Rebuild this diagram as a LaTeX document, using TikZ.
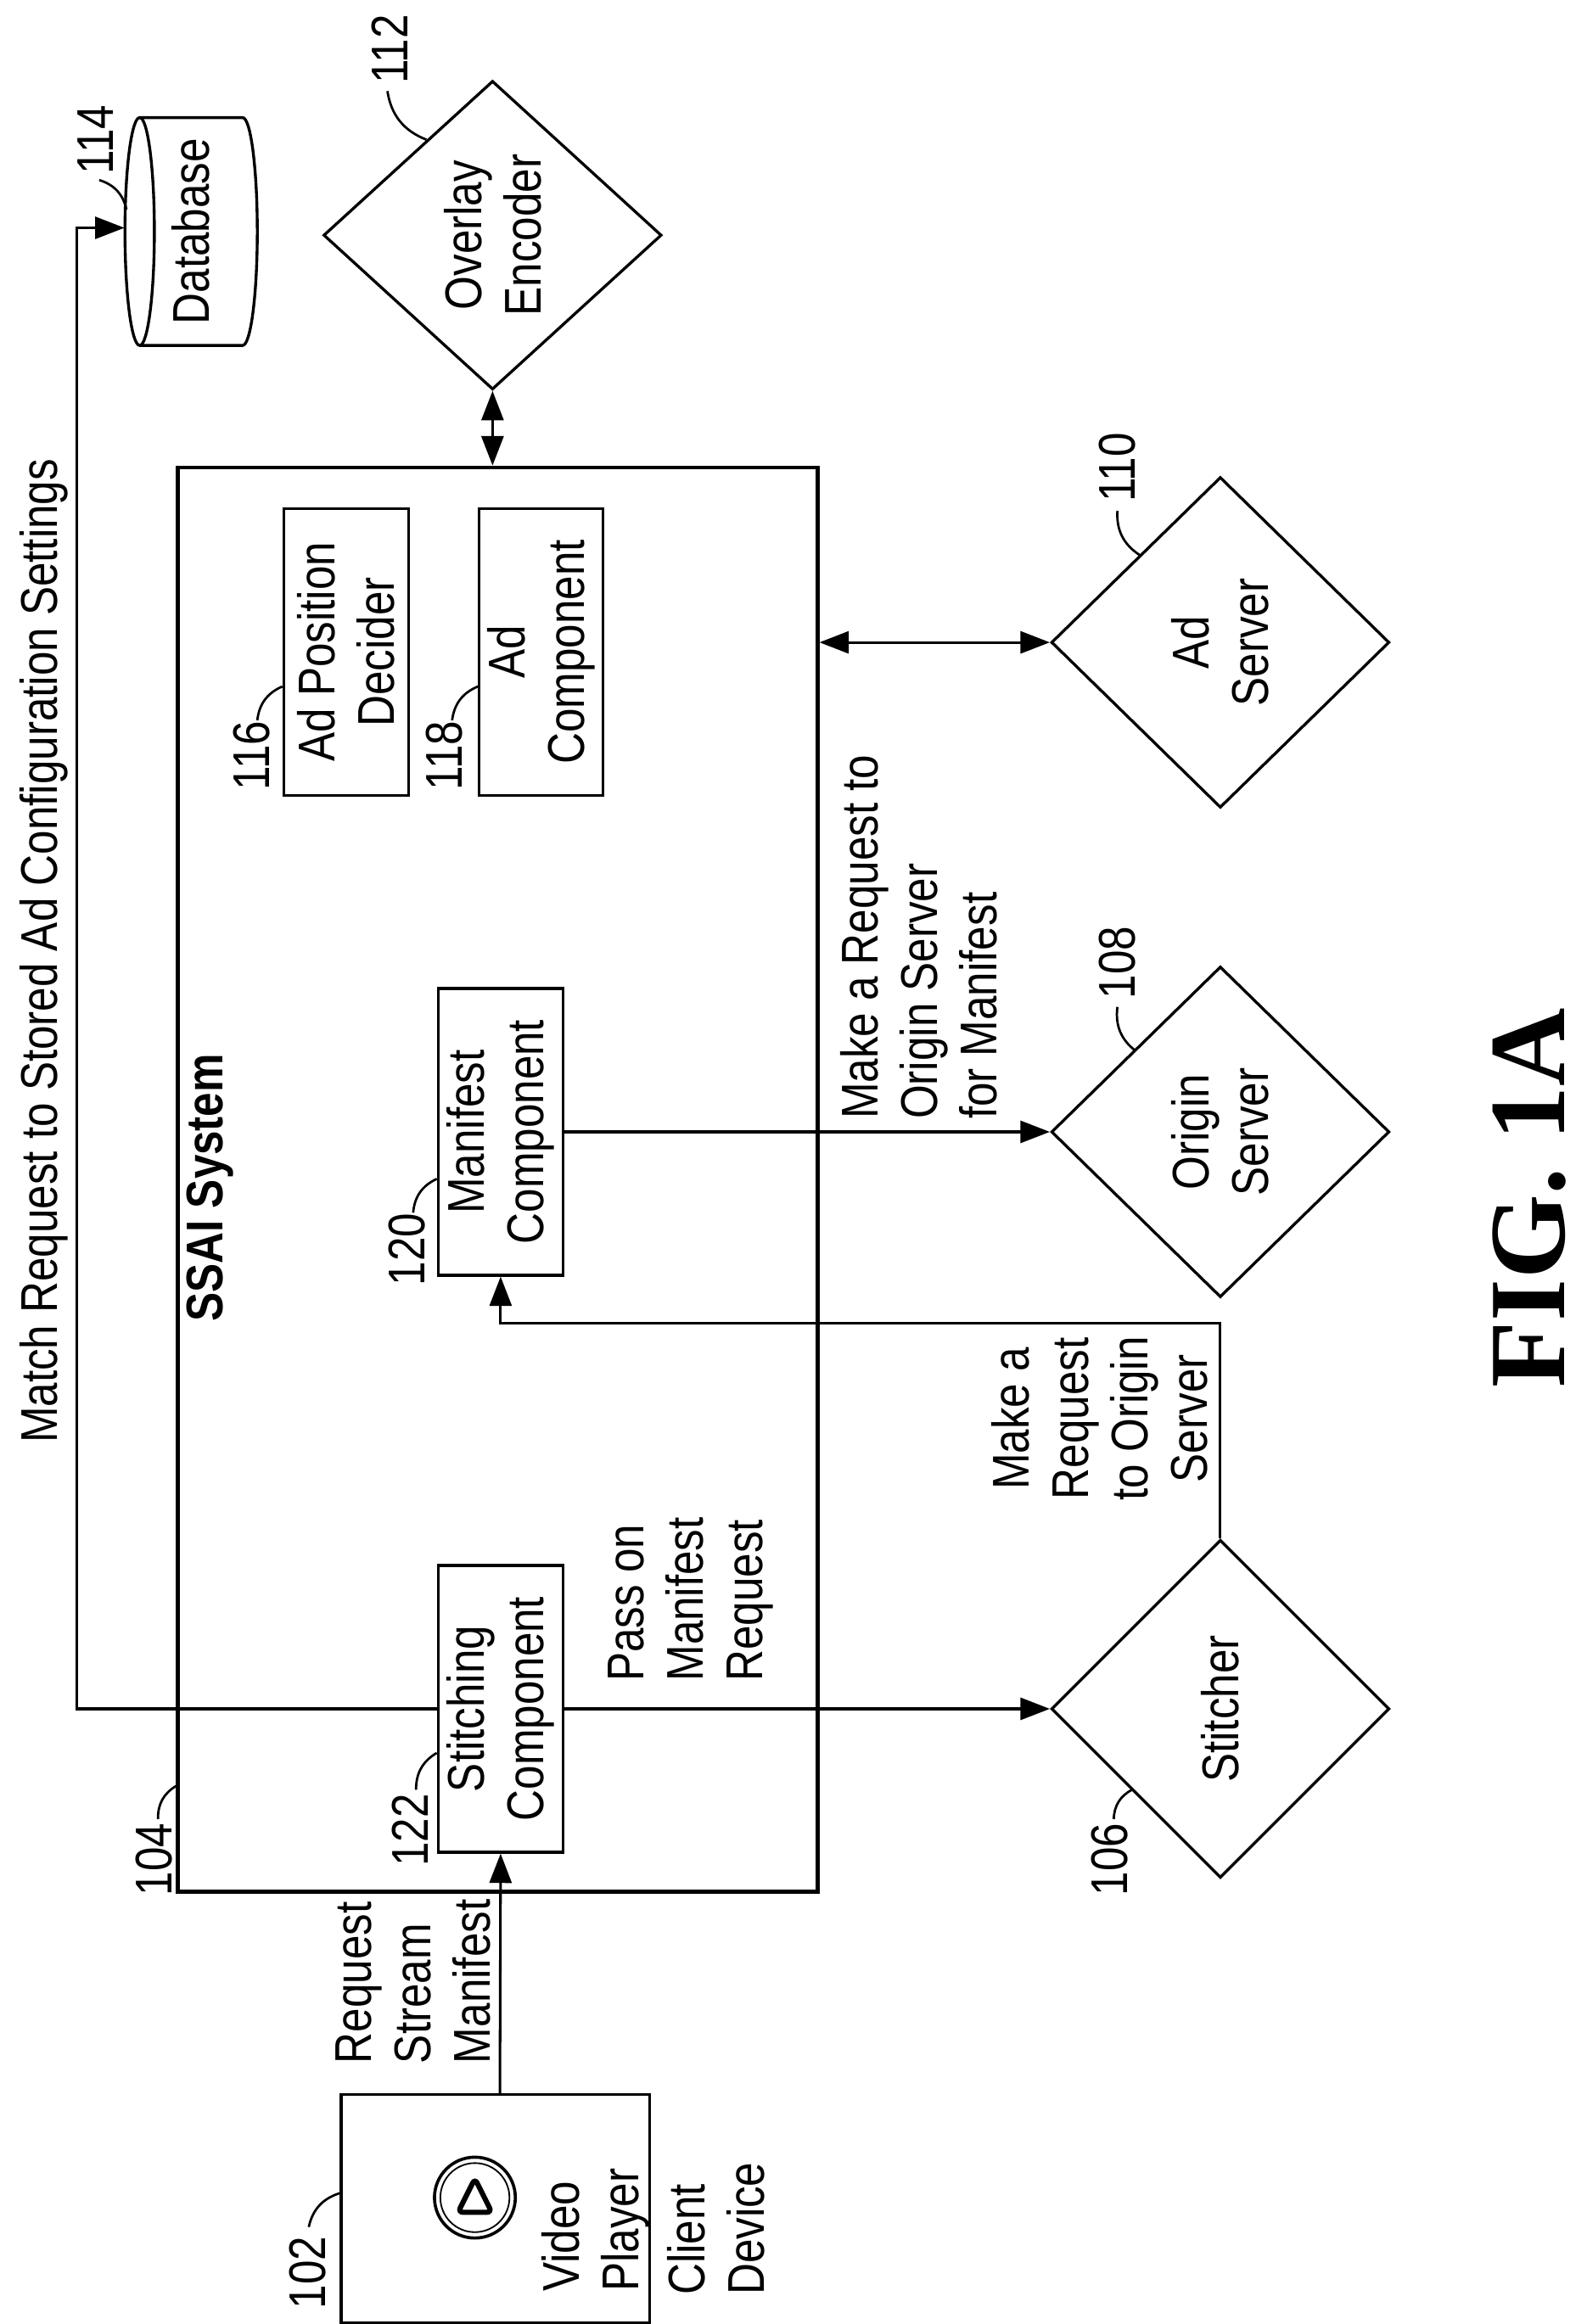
\documentclass[tikz,border=0pt]{standalone}
\usepackage{fontspec}
\setmainfont{Liberation Sans}[FakeStretch=0.84]
\newfontfamily\figfont{Liberation Serif}
\usetikzlibrary{shapes.geometric,arrows.meta}

\tikzset{
  box/.style={draw, line width=1.1pt, inner sep=0pt},
  dia/.style={draw, diamond, line width=1.1pt, inner sep=0pt},
  txt/.style={rotate=90, align=center, font=\fontsize{20}{23}\selectfont},
  ltxt/.style={txt, align=left, anchor=west},
  lead/.style={line width=0.9pt},
  conn/.style={line width=1pt, >={Triangle[length=0.4cm,width=0.3cm]}}
}

\begin{document}
\begin{tikzpicture}[x=1cm, y=-1cm]
\useasboundingbox (0,0) rectangle (21.58,31.62);

% boxes
\node[box, minimum width=4.2cm, minimum height=3.1cm] (client) at (6.74,30.05) {};
\node[box, line width=1.5pt, minimum width=8.7cm, minimum height=19.38cm] (ssai) at (6.77,16.05) {};
\node[box, minimum width=1.7cm, minimum height=3.9cm] (apd) at (4.71,8.87) {};
\node[box, minimum width=1.68cm, minimum height=3.9cm] (adc) at (7.36,8.87) {};
\node[box, minimum width=1.7cm, minimum height=3.9cm] (man) at (6.81,15.4) {};
\node[box, minimum width=1.7cm, minimum height=3.9cm] (stc) at (6.81,23.25) {};
\node[minimum width=1.8cm, minimum height=3.1cm, inner sep=0pt] (db) at (2.6,3.15) {};

% diamonds
\node[dia, minimum width=4.6cm, minimum height=4.2cm] (overlay) at (6.7,3.2) {};
\node[dia, minimum width=4.6cm, minimum height=4.5cm] (adsrv) at (16.6,8.74) {};
\node[dia, minimum width=4.6cm, minimum height=4.5cm] (origin) at (16.6,15.4) {};
\node[dia, minimum width=4.6cm, minimum height=4.6cm] (stitcher) at (16.6,23.25) {};

% database cylinder
\draw[line width=1.1pt] (1.9,1.6) -- (3.3,1.6) arc[start angle=-90, end angle=90, x radius=0.2, y radius=1.55]
  -- (1.9,4.7);
\draw[line width=1.1pt] (1.9,3.15) ellipse [x radius=0.2, y radius=1.55];

% play icon
\draw[line width=1.2pt] (6.46,29.9) circle (0.55);
\draw[line width=0.6pt] (6.46,29.9) circle (0.47);
\draw[line width=2pt, rounded corners=2pt] (6.46,29.64) -- (6.69,30.1) -- (6.23,30.1) -- cycle;

% texts
\node[txt] at (db) {Database};
\node[txt] at (overlay) {Overlay\\Encoder};
\node[txt] at (adsrv) {Ad\\Server};
\node[txt] at (origin) {Origin\\Server};
\node[txt] at (stitcher) {Stitcher};
\node[txt] at (apd) {Ad Position\\Decider};
\node[txt] at (adc) {Ad\\Component};
\node[txt] at (man) {Manifest\\Component};
\node[txt] at (stc) {Stitching\\Component};
\node[txt, font=\fontsize{20}{23}\selectfont\bfseries] at (2.86,16.16) {SSAI System};
\node[txt] at (0.6,12.94) {Match Request to Stored Ad Configuration Settings};
\node[ltxt] at (5.62,28.2) {Request\\Stream\\Manifest};
\node[ltxt] at (8.1,31.3) {Video\\Player};
\node[ltxt] at (9.74,31.35) {Client\\Device};
\node[ltxt] at (9.4,23.0) {Pass on\\Manifest\\Request};
\node[ltxt] at (12.5,15.35) {Make a Request to\\Origin Server\\for Manifest};
\node[txt] at (14.96,19.3) {Make a\\Request\\to Origin\\Server};
\node[rotate=90, font=\figfont\fontsize{42}{45}\selectfont\bfseries] at (20.8,16.3) {FIG. 1A};

% reference numbers
\node[txt] at (4.18,30.92) {102};
\draw[lead] (4.2,30.3) to[bend left=30] (client.west |- 0,29.84);
\node[txt] at (2.1,25.3) {104};
\draw[lead] (2.15,24.75) to[bend left=30] (ssai.west |- 0,24.3);
\node[txt] at (15.1,25.3) {106};
\draw[lead] (15.15,24.75) to[bend left=30] (15.4,24.35);
\node[txt] at (15.2,13.1) {108};
\draw[lead] (15.2,13.7) to[bend right=30] (15.45,14.3);
\node[txt] at (15.2,6.36) {110};
\draw[lead] (15.2,6.95) to[bend right=30] (15.5,7.55);
\node[txt] at (5.3,0.67) {112};
\draw[lead] (5.27,1.24) to[bend right=30] (5.8,1.9);
\node[txt] at (1.3,1.9) {114};
\draw[lead] (1.35,2.45) to[bend left=30] (1.72,2.85);
\node[txt] at (3.42,10.28) {116};
\draw[lead] (3.5,9.8) to[bend left=30] (apd.west |- 0,9.34);
\node[txt] at (6.04,10.28) {118};
\draw[lead] (6.15,9.8) to[bend left=30] (adc.west |- 0,9.34);
\node[txt] at (5.54,17.0) {120};
\draw[lead] (5.62,16.5) to[bend left=30] (man.west |- 0,16.04);
\node[txt] at (5.58,24.9) {122};
\draw[lead] (5.66,24.35) to[bend left=30] (stc.west |- 0,23.85);

% connectors
\coordinate (mcorner) at (1.04,3.1);
\coordinate (mbend) at (0,18.0);
\draw[conn, ->] (client.north -| 6.8,0) -- (stc.south);
\draw[conn, ->] (stc.west) -| (mcorner) -- (db.west |- mcorner);
\draw[conn, ->] (stc.east) -- (stitcher.west);
\draw[conn, ->] (stitcher.north) -- (stitcher.north |- mbend) -| (man.south);
\draw[conn, ->] (man.east) -- (origin.west);
\draw[conn, <->] (ssai.east |- adsrv.west) -- (adsrv.west);
\draw[conn, <->] (overlay.south) -- (overlay.south |- ssai.north);
\end{tikzpicture}
\end{document}
